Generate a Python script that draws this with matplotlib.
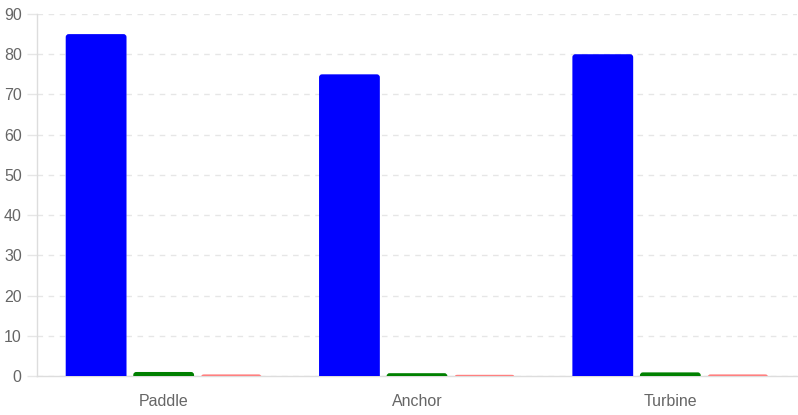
import matplotlib.pyplot as plt
from matplotlib.patches import FancyBboxPatch
import numpy as np

categories = ['Paddle', 'Anchor', 'Turbine']
blue_vals = [85, 75, 80]
green_vals = [1.0, 0.7, 0.9]
red_vals = [0.4, 0.3, 0.4]

plt.rcParams['font.family'] = ['Liberation Sans', 'DejaVu Sans']

fig = plt.figure(figsize=(7.98, 4.15), dpi=100)
ax = fig.add_axes([37 / 798, 39 / 415, 760 / 798, 362 / 415])

x = np.arange(len(categories))
slot = 0.8 / 3
w = slot * 0.9
series = [(blue_vals, '#0000ff', -slot), (green_vals, '#008000', 0), (red_vals, '#ff8080', slot)]

# bars with rounded tops; bottom pushed under the axis so only the top shows round
px_x = 760 / 3.0
px_y = 362 / 90.0
r = 3 / px_x
aspect = (3 / px_y) / r
for vals, col, off in series:
    bars = ax.bar(x + off, vals, w, color=col, zorder=3)
    for b in bars:
        b.set_visible(False)
        h = b.get_height()
        p = FancyBboxPatch((b.get_x(), -1.5), w, h + 1.5,
                           boxstyle='round,pad=0,rounding_size=%f' % r,
                           mutation_aspect=aspect, facecolor=col,
                           edgecolor='none', zorder=3)
        ax.add_patch(p)

ax.set_xlim(-0.5, 2.5)
ax.set_ylim(0, 90)
ax.set_yticks(range(0, 91, 10))
ax.set_xticks(x)
ax.set_xticklabels(categories)

ax.grid(axis='y', color='#e6e6e6', linestyle=(0, (4, 4)), linewidth=1, zorder=0)
for side in ['top', 'right']:
    ax.spines[side].set_visible(False)
for side in ['left', 'bottom']:
    ax.spines[side].set_color('#dddddd')
    ax.spines[side].set_linewidth(1)
    ax.spines[side].set_zorder(2)

ax.tick_params(axis='y', length=7, width=1, color='#e6e6e6', labelcolor='#666666',
               labelsize=11.5, pad=4)
ax.tick_params(axis='x', length=0, labelcolor='#666666', labelsize=11.5, pad=13)

fig.savefig('out.png', dpi=100)
